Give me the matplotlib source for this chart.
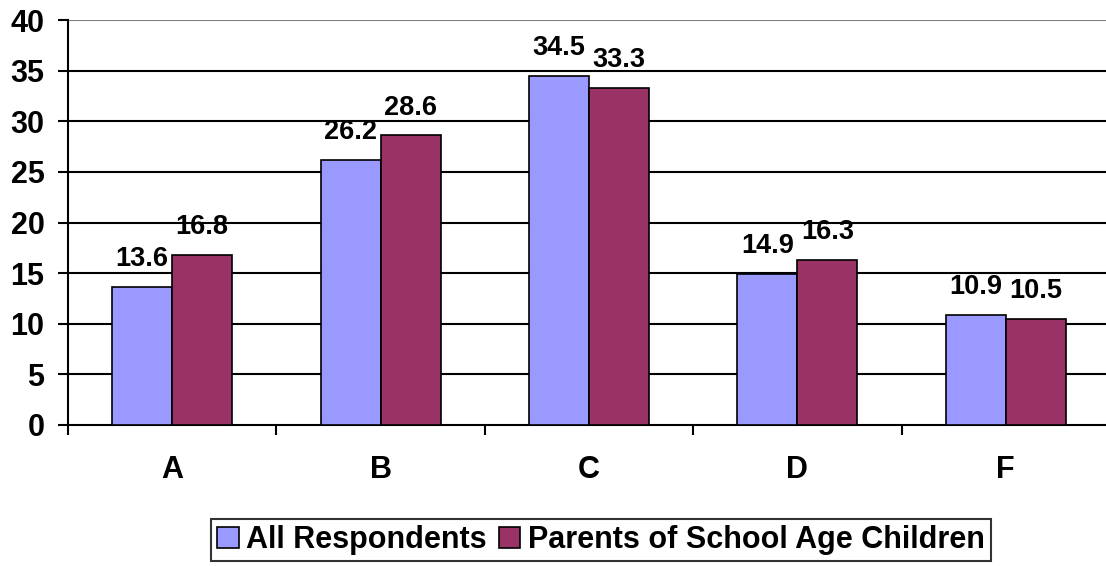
import matplotlib
matplotlib.use("Agg")
import matplotlib.pyplot as plt
import numpy as np

categories = ["A", "B", "C", "D", "F"]
all_resp = [13.6, 26.2, 34.5, 14.9, 10.9]
parents = [16.8, 28.6, 33.3, 16.3, 10.5]
series_names = ["All Respondents", "Parents of School Age Children"]
colors = ["#9999FF", "#993366"]

plt.rcParams['font.family'] = ['Liberation Sans', 'DejaVu Sans']
plt.rcParams['font.weight'] = 'bold'

fig = plt.figure(figsize=(11.06, 5.66), dpi=100)
ax = fig.add_axes([68/1106, 1-425/566, 1042/1106, 405/566])

x = np.arange(len(categories))
w = 0.288
b1 = ax.bar(x - w/2, all_resp, w, color=colors[0], edgecolor='black', linewidth=1.2, label=series_names[0], zorder=3)
b2 = ax.bar(x + w/2, parents, w, color=colors[1], edgecolor='black', linewidth=1.2, label=series_names[1], zorder=3)

for bars, vals in ((b1, all_resp), (b2, parents)):
    for r, v in zip(bars, vals):
        ax.annotate(f"{v:.1f}", (r.get_x() + r.get_width()/2, v), xytext=(0, 15),
                    textcoords='offset points', ha='center', va='baseline',
                    fontsize=19.5, fontweight='bold', zorder=4)

ax.set_xlim(-0.5, 4.5)
ax.set_ylim(0, 40)
ax.set_yticks(range(0, 41, 5))
ax.set_yticklabels([str(v) for v in range(0, 41, 5)], fontsize=22, fontweight='bold')
for y in range(5, 36, 5):
    ax.axhline(y, color='black', linewidth=1.5, zorder=1)
ax.axhline(40, color='#808080', linewidth=1.5, zorder=1)

ax.set_xticks(np.arange(-0.5, 4.6, 1))
ax.set_xticklabels([])
ax.tick_params(axis='x', direction='out', length=7, width=1.5)
ax.tick_params(axis='y', direction='out', length=7, width=1.5, pad=10)
for i, c in enumerate(categories):
    ax.text(i, -(470-425)/10.125, c, ha='center', va='center', fontsize=22, fontweight='bold')

for s in ['top', 'right']:
    ax.spines[s].set_visible(False)
ax.spines['left'].set_linewidth(1.5)
ax.spines['bottom'].set_linewidth(1.5)

leg = fig.legend(handles=[b1, b2], loc='center', bbox_to_anchor=(601/1106, 1-540/566),
                 ncol=2, frameon=True, fancybox=False, edgecolor='black',
                 prop={'size': 22, 'weight': 'bold'}, handlelength=0.7, handleheight=0.7,
                 handletextpad=0.25, columnspacing=0.4, borderpad=0.2, borderaxespad=0)
leg.get_frame().set_linewidth(1.5)

fig.savefig("out.png", dpi=100)
